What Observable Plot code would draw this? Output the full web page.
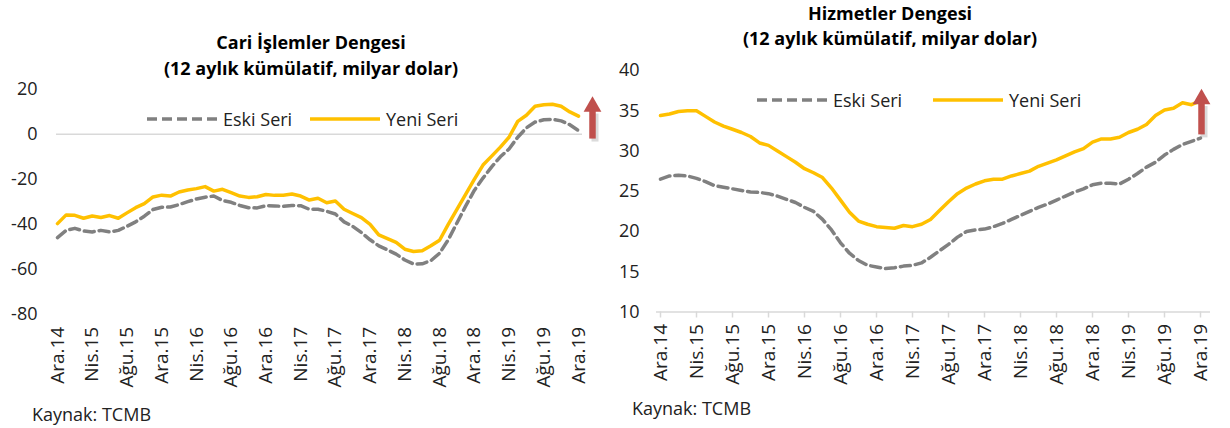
<!DOCTYPE html>
<html>
<head>
<meta charset="utf-8">
<script src="https://cdn.jsdelivr.net/npm/d3@7"></script>
<script src="https://cdn.jsdelivr.net/npm/@observablehq/plot@0.6"></script>
<style>
  body { margin: 0; background: #fff; font-family: "Open Sans", sans-serif; }
  #wrap { position: relative; width: 1230px; height: 428px; overflow: hidden; background: #fff; }
  .panel { position: absolute; top: 0; }
  .t { position: absolute; white-space: nowrap; transform: translate(-50%, -50%); font-weight: bold; font-size: 18px; color: #000; }
  .src { position: absolute; white-space: nowrap; transform: translateY(-50%); font-size: 18px; color: #222; }
  .lg { position: absolute; display: flex; align-items: center; transform: translateY(-50%); font-size: 18px; color: #222; white-space: nowrap; }
  .lg svg { display: block; margin-right: 6px; }
</style>
</head>
<body>
<div id="wrap">
  <div id="left" class="panel" style="left:0px"></div>
  <div id="right" class="panel" style="left:610px"></div>
</div>
<script>
// ---- Data ----
const monthAbbr = ["Oca","Şub","Mar","Nis","May","Haz","Tem","Ağu","Eyl","Eki","Kas","Ara"];
const months = ["Ara.14"];
for (const y of ["15","16","17","18","19"]) for (const m of monthAbbr) months.push(m + "." + y);
const xTicks = months.filter((d, i) => i % 4 === 0);

// Cari İşlemler Dengesi
const cariYeni = [-39.8,-35.9,-36.1,-37.4,-36.4,-37.1,-36.2,-37.4,-35.0,-32.7,-30.9,-27.9,-27.1,-27.5,-25.7,-24.8,-24.2,-23.3,-25.3,-24.5,
  -26.0,-27.5,-28.1,-27.8,-26.8,-27.2,-27.1,-26.6,-27.5,-29.3,-28.5,-30.5,-29.7,-33.4,-35.3,-37.1,-40.1,-44.8,-46.5,-48.2,
  -51.2,-52.2,-51.9,-49.7,-47.2,-40.1,-33.4,-26.8,-20.1,-13.7,-9.7,-5.7,-1.3,5.8,8.5,12.5,13.2,13.4,12.5,10.0,8.1];
const cariEski = [-46.0,-42.8,-41.9,-43.1,-43.5,-42.8,-43.5,-42.8,-41.0,-39.0,-36.5,-33.5,-32.5,-32.4,-31.3,-30.0,-28.8,-28.0,-27.5,-29.5,
  -30.3,-31.7,-32.7,-32.8,-31.8,-31.9,-32.1,-31.7,-31.8,-33.4,-33.4,-34.3,-35.5,-39.0,-41.0,-43.8,-47.0,-49.7,-51.5,-53.4,
  -56.0,-57.8,-57.7,-56.3,-53.0,-47.0,-39.5,-32.0,-25.0,-19.5,-14.5,-10.0,-6.5,-1.3,2.9,5.5,6.5,6.7,6.0,4.3,1.7];
const cariTicks = [-80, -60, -40, -20, 0, 20];
const cariArrow = [{m: "Ara.19", from: -2.1, to: 10.4}];

// Hizmetler Dengesi
const hizYeni = [34.4,34.6,34.9,35.0,35.0,34.3,33.6,33.1,32.7,32.3,31.8,31.0,30.7,30.0,29.3,28.6,27.8,27.3,26.7,25.4,
  23.9,22.4,21.3,20.9,20.6,20.5,20.4,20.75,20.6,20.9,21.5,22.6,23.7,24.7,25.4,25.9,26.3,26.5,26.5,26.9,
  27.2,27.5,28.1,28.5,28.9,29.4,29.9,30.3,31.1,31.5,31.5,31.7,32.3,32.7,33.3,34.4,35.1,35.3,36.0,35.75,36.25];
const hizEski = [26.5,26.9,27.0,26.9,26.6,26.2,25.7,25.5,25.3,25.1,24.9,24.85,24.7,24.4,24.0,23.6,23.0,22.5,21.5,20.2,
  18.6,17.3,16.4,15.8,15.6,15.4,15.5,15.7,15.8,16.1,16.8,17.6,18.4,19.3,20.0,20.2,20.3,20.6,21.0,21.5,
  22.0,22.5,23.0,23.4,23.9,24.4,24.9,25.3,25.8,26.0,26.0,25.9,26.5,27.2,28.0,28.6,29.5,30.2,30.8,31.2,31.6];
const hizTicks = [10, 15, 20, 25, 30, 35, 40];
const hizArrow = [{m: "Ara.19", from: 32.0, to: 35.9}];

const seriesNames = ["Eski Seri", "Yeni Seri"];
const titles = {
  cari: ["Cari İşlemler Dengesi", "(12 aylık kümülatif, milyar dolar)"],
  hiz: ["Hizmetler Dengesi", "(12 aylık kümülatif, milyar dolar)"]
};
const sourceText = "Kaynak: TCMB";

// ---- Styles ----
const YELLOW = "#FFC000", GREY = "#808080", RED = "#C0504D", LIGHT = "#D9D9D9";
const toRows = arr => arr.map((v, i) => ({m: months[i], v}));
const plainNum = d => String(d);

function arrowMarks(data, dx) {
  return [
    Plot.ruleX(data, {x: "m", y1: "from", y2: "to", dx: dx + 2.5, dy: 3, stroke: "#999", strokeOpacity: 0.35, strokeWidth: 7}),
    Plot.ruleX(data, {x: "m", y1: "from", y2: "to", dx, stroke: RED, strokeWidth: 6.5, strokeLinecap: "butt"}),
    Plot.dot(data, {x: "m", y: "to", dx, dy: -4.5, symbol: "triangle", r: 6.6, fill: RED, stroke: null})
  ];
}

function linesMarks(eski, yeni) {
  return [
    Plot.line(toRows(eski), {x: "m", y: "v", stroke: GREY, strokeWidth: 3.5, strokeDasharray: "10,5", strokeLinejoin: "round"}),
    Plot.line(toRows(yeni), {x: "m", y: "v", stroke: YELLOW, strokeWidth: 3.5, strokeLinejoin: "round"})
  ];
}

const baseStyle = {fontFamily: "Open Sans, sans-serif", fontSize: "18px", color: "#222", background: "transparent", overflow: "visible"};

const leftPlot = Plot.plot({
  width: 610, height: 428,
  marginLeft: 57, marginRight: 32, marginTop: 89, marginBottom: 114.7,
  style: baseStyle,
  x: {type: "point", domain: months, padding: 0},
  y: {domain: [-80, 20]},
  marks: [
    Plot.ruleY([0], {stroke: LIGHT, strokeWidth: 1.5, insetLeft: -1, insetRight: -4}),
    Plot.axisX(xTicks, {tickRotate: -90, tickSize: 0, tickPadding: 13, label: null, fontSize: 19, fill: "#222"}),
    Plot.axisY(cariTicks, {tickSize: 0, tickPadding: 20, label: null, fontSize: 18, fill: "#222", tickFormat: plainNum}),
    ...linesMarks(cariEski, cariYeni),
    ...arrowMarks(cariArrow, 14)
  ]
});

const rightPlot = Plot.plot({
  width: 620, height: 428,
  marginLeft: 49, marginRight: 29, marginTop: 70, marginBottom: 116.5,
  style: baseStyle,
  x: {type: "point", domain: months, padding: 0},
  y: {domain: [10, 40]},
  marks: [
    Plot.ruleY([10], {stroke: LIGHT, strokeWidth: 1.5, insetLeft: -3, insetRight: -9}),
    Plot.axisX(xTicks, {tickRotate: -90, tickSize: 6, tickPadding: 6, label: null, fontSize: 19, stroke: LIGHT, strokeWidth: 1.5, fill: "#222"}),
    Plot.axisY(hizTicks, {tickSize: 0, tickPadding: 20, label: null, fontSize: 18, fill: "#222", tickFormat: plainNum}),
    ...linesMarks(hizEski, hizYeni),
    ...arrowMarks(hizArrow, 1)
  ]
});

document.getElementById("left").appendChild(leftPlot);
document.getElementById("right").appendChild(rightPlot);

// ---- Titles, legends, source (HTML) ----
const wrap = document.getElementById("wrap");
function addDiv(cls, text, x, y) {
  const d = document.createElement("div");
  d.className = cls; d.textContent = text;
  d.style.left = x + "px"; d.style.top = y + "px";
  wrap.appendChild(d);
  return d;
}
addDiv("t", titles.cari[0], 311, 42);
addDiv("t", titles.cari[1], 311, 68);
addDiv("t", titles.hiz[0], 890, 13);
addDiv("t", titles.hiz[1], 890, 38);
addDiv("src", sourceText, 32, 414);
addDiv("src", sourceText, 632, 408);

function addLegend(x, y, name, dashed) {
  const d = document.createElement("div");
  d.className = "lg";
  d.style.left = x + "px"; d.style.top = y + "px";
  const ns = "http://www.w3.org/2000/svg";
  const s = document.createElementNS(ns, "svg");
  s.setAttribute("width", 70); s.setAttribute("height", 8);
  const l = document.createElementNS(ns, "line");
  l.setAttribute("x1", 0); l.setAttribute("x2", 70); l.setAttribute("y1", 4); l.setAttribute("y2", 4);
  l.setAttribute("stroke", dashed ? GREY : YELLOW); l.setAttribute("stroke-width", 3.5);
  if (dashed) l.setAttribute("stroke-dasharray", "10,5");
  s.appendChild(l);
  d.appendChild(s);
  const sp = document.createElement("span"); sp.textContent = name;
  d.appendChild(sp);
  wrap.appendChild(d);
}
addLegend(147, 119, seriesNames[0], true);
addLegend(310, 119, seriesNames[1], false);
addLegend(757, 99.5, seriesNames[0], true);
addLegend(933, 100, seriesNames[1], false);
</script>
</body>
</html>
